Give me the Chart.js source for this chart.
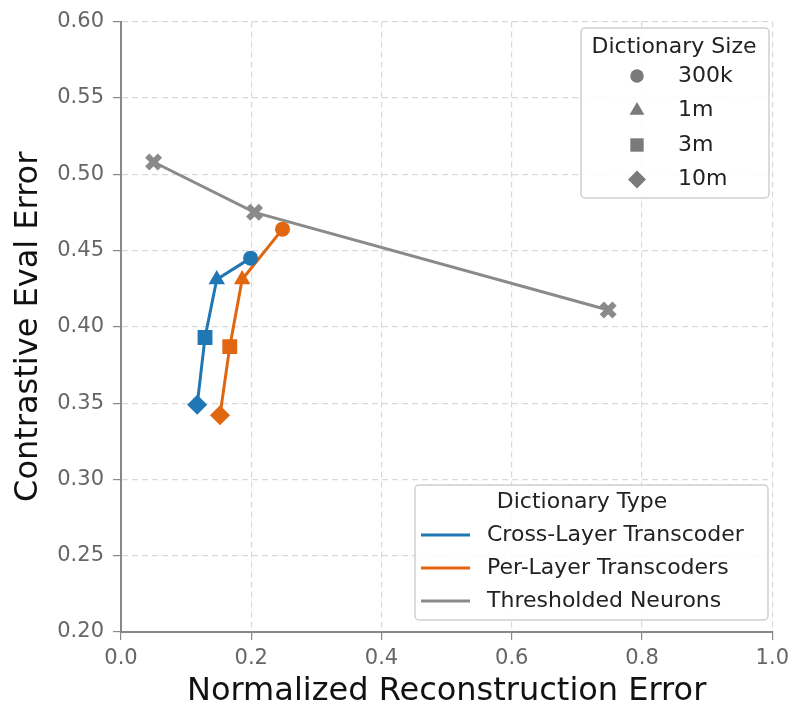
<!DOCTYPE html>
<html>
<head>
<meta charset="utf-8">
<script src="https://cdn.jsdelivr.net/npm/chart.js@4"></script>
<style>
  html, body { margin: 0; padding: 0; background: #fff; }
  #wrap { width: 795px; height: 703px; }
</style>
</head>
<body>
<div id="wrap"><canvas id="chart" width="795" height="703"></canvas></div>
<script>
const FONT = "'DejaVu Sans', sans-serif";

// dictionary sizes (marker per size)
const sizeLabels = ["300k", "1m", "3m", "10m"];
const sizeMarkers = ["circle", "triangle", "rect", "rectRot"];
const sizeRadius = [7.5, 9.5, 10.5, 10];

// Cross-Layer Transcoder
const cltX = [0.199, 0.147, 0.129, 0.117];
const cltY = [0.445, 0.431, 0.393, 0.349];

// Per-Layer Transcoders
const pltX = [0.248, 0.186, 0.167, 0.152];
const pltY = [0.464, 0.431, 0.387, 0.342];

// Thresholded Neurons
const thrX = [0.05, 0.205, 0.748];
const thrY = [0.508, 0.475, 0.411];

const typeLabels = ["Cross-Layer Transcoder", "Per-Layer Transcoders", "Thresholded Neurons"];
const typeColors = ["#1f77b4", "#e0670f", "#8a8a8a"];

const toPts = (xs, ys) => xs.map((x, i) => ({ x: x, y: ys[i] }));

function series(i, xs, ys, styles, radii, bw) {
  return {
    label: typeLabels[i],
    data: toPts(xs, ys),
    showLine: true,
    borderColor: typeColors[i],
    backgroundColor: typeColors[i],
    borderWidth: 3,
    pointStyle: styles,
    pointRadius: radii,
    pointBorderWidth: bw,
    pointBorderColor: typeColors[i],
    pointBackgroundColor: typeColors[i]
  };
}

// two boxed legends drawn on top of the plot
const boxLegends = {
  id: "boxLegends",
  afterDraw(chart) {
    const ctx = chart.ctx;
    ctx.save();
    const box = (x, y, w, h) => {
      ctx.beginPath();
      ctx.roundRect(x, y, w, h, 4);
      ctx.fillStyle = "rgba(255,255,255,0.85)";
      ctx.fill();
      ctx.strokeStyle = "#cfcfcf";
      ctx.lineWidth = 1.5;
      ctx.stroke();
    };
    ctx.textBaseline = "middle";

    // Dictionary Size
    box(581, 28, 188, 170);
    ctx.fillStyle = "#222";
    ctx.font = "22px " + FONT;
    ctx.textAlign = "center";
    ctx.fillText("Dictionary Size", 674, 47);
    ctx.textAlign = "left";
    sizeLabels.forEach((lab, i) => {
      const y = 76 + i * 34.5;
      ctx.fillStyle = "#7a7a7a";
      Chart.helpers.drawPoint(ctx, { pointStyle: sizeMarkers[i], radius: sizeRadius[i] * 0.9, borderWidth: 0, rotation: 0 }, 637, y);
      ctx.fillStyle = "#222";
      ctx.fillText(lab, 678, y);
    });

    // Dictionary Type
    box(415, 485, 353, 135);
    ctx.fillStyle = "#222";
    ctx.textAlign = "center";
    ctx.fillText("Dictionary Type", 582, 502);
    ctx.textAlign = "left";
    typeLabels.forEach((lab, i) => {
      const y = 535 + i * 33;
      ctx.strokeStyle = typeColors[i];
      ctx.lineWidth = 3;
      ctx.beginPath();
      ctx.moveTo(421, y);
      ctx.lineTo(470, y);
      ctx.stroke();
      ctx.fillStyle = "#222";
      ctx.fillText(lab, 487, y);
    });
    ctx.restore();
  }
};

new Chart(document.getElementById("chart"), {
  type: "scatter",
  data: {
    datasets: [
      series(0, cltX, cltY, sizeMarkers, sizeRadius, 0),
      series(1, pltX, pltY, sizeMarkers, sizeRadius, 0),
      series(2, thrX, thrY, "crossRot", 9, 6)
    ]
  },
  options: {
    responsive: false,
    animation: false,
    layout: { padding: { top: 17, right: 22, left: 0, bottom: 0 } },
    plugins: {
      legend: { display: false },
      tooltip: { enabled: false }
    },
    scales: {
      x: {
        type: "linear",
        min: 0, max: 1,
        ticks: { stepSize: 0.2, color: "#666", font: { family: FONT, size: 21 }, padding: 6,
                 callback: v => v.toFixed(1) },
        grid: { color: "#d9d9d9", lineWidth: 1.2, tickLength: 8, tickColor: "#888", tickBorderDash: [], drawOnChartArea: true },
        border: { color: "#888", width: 2, dash: [6, 4] },
        title: { display: true, text: "Normalized Reconstruction Error", color: "#111", font: { family: FONT, size: 32 }, padding: { top: 0, bottom: -8 } },
        afterFit: s => { s.height = 71; }
      },
      y: {
        type: "linear",
        min: 0.2, max: 0.6,
        ticks: { stepSize: 0.05, color: "#666", font: { family: FONT, size: 21 }, padding: 9,
                 callback: v => v.toFixed(2) },
        grid: { color: "#d9d9d9", lineWidth: 1.2, tickLength: 8, tickColor: "#888", tickBorderDash: [] },
        border: { color: "#888", width: 2, dash: [6, 4] },
        title: { display: true, text: "Contrastive Eval Error", color: "#111", font: { family: FONT, size: 32 }, padding: { top: 9 } },
        afterFit: s => { s.width = 121; }
      }
    }
  },
  plugins: [boxLegends]
});
</script>
</body>
</html>
